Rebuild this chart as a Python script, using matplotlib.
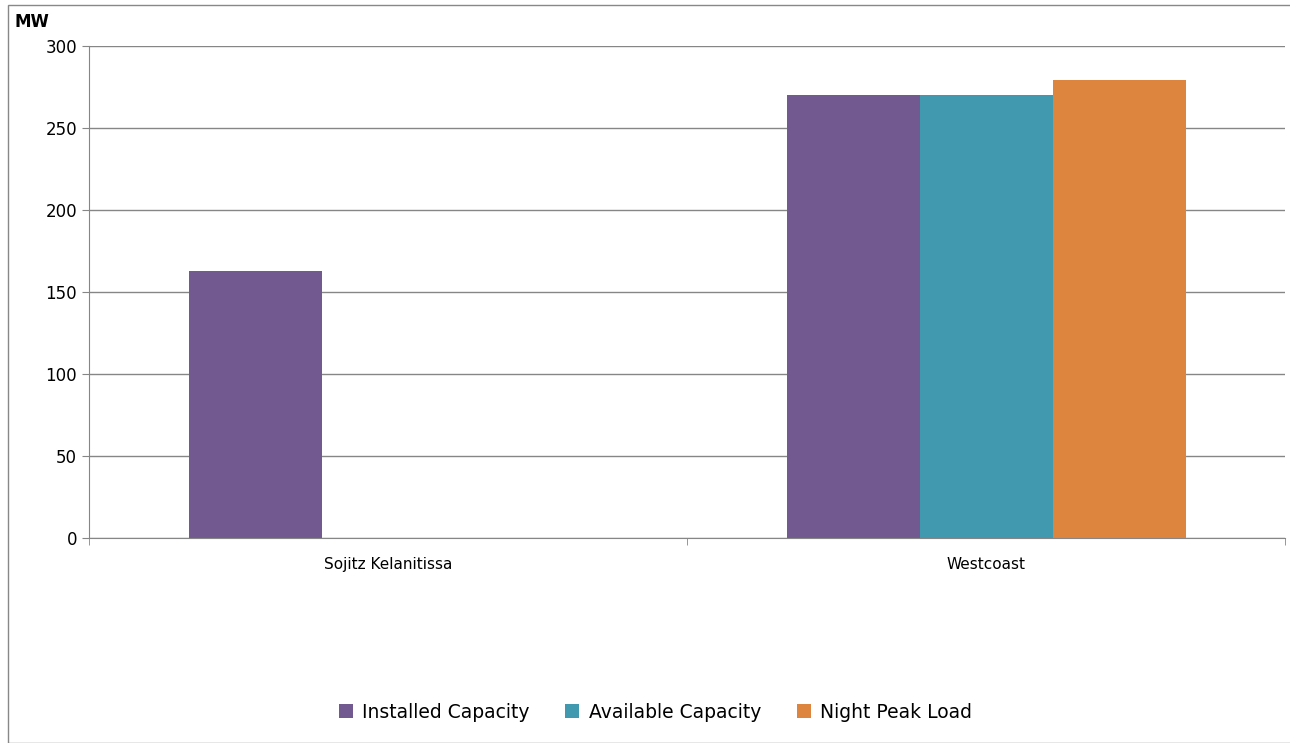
import matplotlib
matplotlib.use("Agg")
import matplotlib.pyplot as plt
import numpy as np
from matplotlib.patches import Rectangle

categories = ["Sojitz Kelanitissa", "Westcoast"]
series_names = ["Installed Capacity", "Available Capacity", "Night Peak Load"]
installed = [163, 270]
available = [0, 270]
night_peak = [0, 279]
colors = ["#725990", "#4199B0", "#DD843F"]

fig = plt.figure(figsize=(12.9, 7.43), dpi=100)
ax = fig.add_axes([89/1290, 1-538/743, (1285-89)/1290, (538-46)/743])
fig.patches.append(Rectangle((8/1290, 0), 1-8/1290 + 0.01, 1-5/743, transform=fig.transFigure,
                             fill=False, edgecolor="#888888", linewidth=1))
x = np.arange(len(categories))
w = 133/598
for i, (vals, name, c) in enumerate(zip([installed, available, night_peak], series_names, colors)):
    ax.bar(x + (i-1)*w, vals, w, color=c, label=name)
ax.set_xlim(-0.5, 1.5)
ax.set_ylim(0, 300)
ax.set_yticks(range(0, 301, 50))
ax.yaxis.grid(True, color="#868686", linewidth=1)
ax.set_axisbelow(True)
ax.set_xticks(x)
ax.set_xticklabels(categories, fontsize=11)
ax.set_xticks([-0.5, 0.5, 1.5], minor=True)
ax.tick_params(axis="x", which="major", length=0, pad=14)
ax.tick_params(axis="x", which="minor", length=5, color="#868686")
ax.tick_params(axis="y", labelsize=12, length=5, color="#868686")
for s in ["top", "right"]:
    ax.spines[s].set_visible(False)
for s in ["left", "bottom"]:
    ax.spines[s].set_color("#868686")
fig.text(14/1290, 1-22/743, "MW", fontsize=12, fontweight="bold", va="center")
fig.legend(loc="center", bbox_to_anchor=(0.508, 1-712/743), ncol=3, frameon=False,
           fontsize=13.5, handlelength=0.75, handleheight=0.75, columnspacing=1.9, handletextpad=0.5)
fig.savefig("out.png", dpi=100)
